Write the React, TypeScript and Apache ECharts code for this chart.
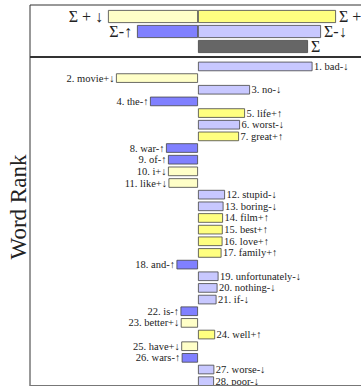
import React, { useEffect, useRef } from "react";
import * as echarts from "echarts";

const sumRows = ["Σ+", "Σ-", "Σ"];
const sumNeg = [-90, -61, null];
const sumPos = [138, 123, 110];
const sumNegLabels = ["Σ + ↓", "Σ-↑", ""];
const sumPosLabels = ["Σ + ↑", "Σ-↓", "Σ"];

const words = ["bad", "movie", "no", "the", "life", "worst", "great", "war", "of", "i", "like", "stupid", "boring", "film", "best", "love", "family", "and", "unfortunately", "nothing", "if", "is", "better", "well", "have", "wars", "worse", "poor"];
const marks = ["-↓", "+↓", "-↓", "-↑", "+↑", "-↓", "+↑", "-↑", "-↑", "+↓", "+↓", "-↓", "-↓", "+↑", "+↑", "+↑", "+↑", "-↑", "-↓", "-↓", "-↓", "-↑", "+↓", "+↑", "+↓", "-↑", "-↓", "-↓"];
const values = [114.5, -82, 52, -48, 47, 42, 41, -32, -30, -30, -29.5, 27, 25.5, 25, 24.7, 24.5, 23.5, -21.5, 20.5, 19.5, 18.5, -17.5, -17.2, 17.1, -16.7, -16.3, 16.3, 16];

const markColors: Record<string, string> = {
  "+↑": "#ffff80",
  "+↓": "#ffffc8",
  "-↓": "#c8c8ff",
  "-↑": "#8080ff",
};
const sumNegColors = ["#ffffc8", "#8080ff", "#ffffff"];
const sumPosColors = ["#ffff80", "#c8c8ff", "#666666"];

const FONT = "Liberation Serif";

export default function App() {
  const ref = useRef<HTMLDivElement>(null);
  useEffect(() => {
    if (!ref.current) return;
    document.body.style.overflow = "hidden";
    const chart = echarts.init(ref.current, undefined, { renderer: "svg" });
    const border = { borderColor: "#444", borderWidth: 0.8 };
    chart.setOption({
      animation: false,
      grid: [
        { left: 30, top: 9, width: 350, height: 45 },
        { left: 30, top: 60.6, width: 350, height: 328.2 },
      ],
      xAxis: [
        { type: "value", gridIndex: 0, min: -168, max: 182, show: false },
        { type: "value", gridIndex: 1, min: -168, max: 182, show: false },
      ],
      yAxis: [
        { type: "category", gridIndex: 0, data: sumRows, inverse: true, show: false },
        { type: "category", gridIndex: 1, data: words, inverse: true, show: false },
      ],
      series: [
        {
          type: "bar",
          xAxisIndex: 0,
          yAxisIndex: 0,
          stack: "sum",
          barWidth: 13,
          data: sumNeg.map((v, i) => ({
            value: v,
            itemStyle: { color: sumNegColors[i], ...border },
            label: {
              show: v !== null,
              position: "left",
              distance: 5,
              formatter: sumNegLabels[i],
              fontFamily: FONT,
              fontSize: 16,
              color: "#222",
            },
          })),
        },
        {
          type: "bar",
          xAxisIndex: 0,
          yAxisIndex: 0,
          stack: "sum",
          barWidth: 13,
          data: sumPos.map((v, i) => ({
            value: v,
            itemStyle: { color: sumPosColors[i], ...border },
            label: {
              show: true,
              position: "right",
              distance: 3,
              formatter: sumPosLabels[i],
              fontFamily: FONT,
              fontSize: 16,
              color: "#222",
            },
          })),
        },
        {
          type: "bar",
          xAxisIndex: 1,
          yAxisIndex: 1,
          barWidth: 9.5,
          data: values.map((v, i) => ({
            value: v,
            itemStyle: { color: markColors[marks[i]], ...border },
            label: {
              show: true,
              position: v < 0 ? "left" : "right",
              distance: 1.5,
              formatter: `${i + 1}. ${words[i]}${marks[i]}`,
              fontFamily: FONT,
              fontSize: 10.5,
              color: "#222",
            },
          })),
        },
      ],
      graphic: [
        { type: "rect", z: 100, shape: { x: 0, y: 385.5, width: 420, height: 10 }, style: { fill: "#fff" } },
        { type: "line", z: 101, shape: { x1: 30, y1: 5, x2: 420, y2: 5 }, style: { stroke: "#333", lineWidth: 1 } },
        { type: "line", z: 101, shape: { x1: 30, y1: 5, x2: 30, y2: 386 }, style: { stroke: "#333", lineWidth: 1 } },
        { type: "line", z: 101, shape: { x1: 30, y1: 57, x2: 420, y2: 57 }, style: { stroke: "#333", lineWidth: 2 } },
        { type: "line", z: 101, shape: { x1: 30, y1: 385.5, x2: 420, y2: 385.5 }, style: { stroke: "#777", lineWidth: 1 } },
        {
          type: "text",
          z: 101,
          x: 18,
          y: 207,
          rotation: Math.PI / 2,
          style: {
            text: "Word Rank",
            fontFamily: FONT,
            fontSize: 23,
            fill: "#222",
            align: "center",
            verticalAlign: "middle",
          },
        },
      ],
    });
    return () => chart.dispose();
  }, []);
  return (
    <div
      ref={ref}
      style={{ position: "fixed", left: 0, top: 0, width: 420, height: 387, background: "#fff" }}
    />
  );
}
